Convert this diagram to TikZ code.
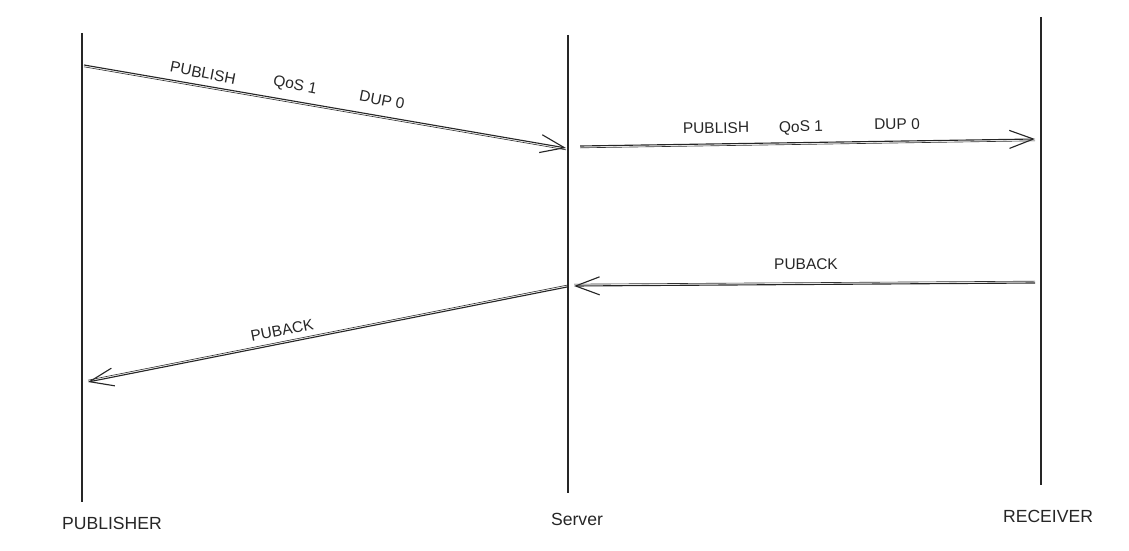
\documentclass[tikz,border=0pt]{standalone}
\usepackage{fontspec}
\setmainfont{Liberation Sans}
\usetikzlibrary{arrows.meta}

\begin{document}
\begin{tikzpicture}[x=0.025cm,y=-0.025cm]
\tikzset{
  lifeline/.style={line width=1.3pt,black!85},
  message/.style={-{Straight Barb[length=6mm,width=4.5mm]},line width=0.8pt,black!85},
  echo/.style={line width=0.45pt,black!80},
  party/.style={font=\fontsize{12.5}{14}\selectfont,black!85},
  msglabel/.style={font=\fontsize{11}{13}\selectfont,inner sep=1pt,black!85}
}
\useasboundingbox (0,0) rectangle (1129,551);
% lifelines
\coordinate (pub_top) at (82,33);
\coordinate (pub_bot) at (82,502);
\coordinate (srv_top) at (568,35);
\coordinate (srv_bot) at (568,493);
\coordinate (rcv_top) at (1041,17);
\coordinate (rcv_bot) at (1041,485);
\node[party] (n_pub) at (112,523) {PUBLISHER};
\node[party] (n_srv) at (577,519) {Server};
\node[party] (n_rcv) at (1048,516) {RECEIVER};
\draw[lifeline] (pub_top) -- (pub_bot);
\draw[lifeline] (srv_top) -- (srv_bot);
\draw[lifeline] (rcv_top) -- (rcv_bot);
% message ends
\coordinate (m1_s) at (84,65);
\coordinate (m1_e) at (566,148);
\coordinate (m2_s) at (580,146);
\coordinate (m2_e) at (1035,139);
\coordinate (m3_s) at (1035,283);
\coordinate (m3_e) at (574,286);
\coordinate (m4_s) at (567,287);
\coordinate (m4_e) at (88,382);
% messages
\draw[message] (m1_s) -- (m1_e);
\draw[echo,transform canvas={yshift=-1.3pt}] (m1_s) -- (m1_e);
\draw[message] (m2_s) -- (m2_e);
\draw[echo,transform canvas={yshift=-1.3pt}] (m2_s) -- (m2_e);
\draw[message] (m3_s) -- (m3_e);
\draw[echo,transform canvas={yshift=1.3pt}] (m3_s) -- (m3_e);
\draw[message] (m4_s) -- (m4_e);
\draw[echo,transform canvas={yshift=1.3pt}] (m4_s) -- (m4_e);
% labels
\node[msglabel,rotate=-11] (l1a) at (203,73) {PUBLISH};
\node[msglabel,rotate=-11] (l1b) at (295,86) {QoS 1};
\node[msglabel,rotate=-11] (l1c) at (382,100) {DUP 0};
\node[msglabel,rotate=1] (l2a) at (716,128) {PUBLISH};
\node[msglabel,rotate=1] (l2b) at (801,128) {QoS 1};
\node[msglabel,rotate=1] (l2c) at (897,124) {DUP 0};
\node[msglabel] (l3) at (806,264) {PUBACK};
\node[msglabel,rotate=11] (l4) at (282,330) {PUBACK};
\end{tikzpicture}
\end{document}
